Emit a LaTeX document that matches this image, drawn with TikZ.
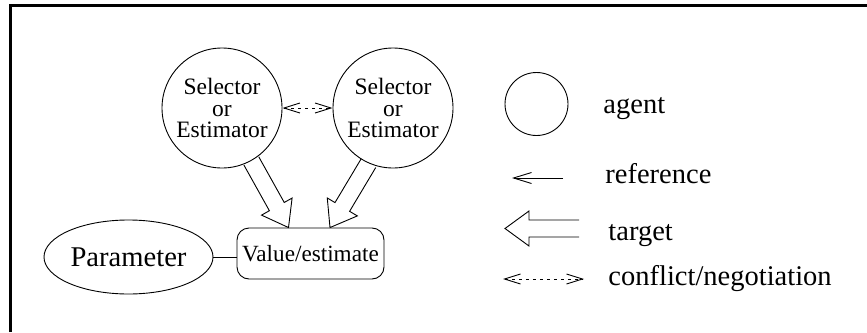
\documentclass[tikz,border=0pt]{standalone}
\usepackage{fontspec}
\setmainfont{Liberation Serif}
\usetikzlibrary{arrows.meta, calc, shapes.geometric}

% hollow (target) arrow from #1 to #2
\newcommand\hollowarrow[2]{%
  \coordinate (hb) at ($(#2)!24pt!(#1)$);
  \draw ($(#1)!8.5pt!90:(#2)$) -- ($(hb)!8.5pt!90:(#2)$) -- ($(hb)!17.5pt!90:(#2)$)
    -- (#2) -- ($(hb)!17.5pt!-90:(#2)$) -- ($(hb)!8.5pt!-90:(#2)$)
    -- ($(#1)!8.5pt!-90:(#2)$);
}

\begin{document}
\begin{tikzpicture}[x=1pt, y=-1pt, line width=0.9pt,
    agent/.style={draw, circle, minimum size=120pt, inner sep=0pt, align=center,
      font=\fontsize{23.5}{21.5}\selectfont},
    legtext/.style={anchor=base west, inner sep=0pt, font=\fontsize{28.5}{30}\selectfont},
    refarrow/.style={-{Straight Barb[length=18pt, width=11pt]}},
    negarrow/.style={{Straight Barb[length=16pt, width=10pt]}-{Straight Barb[length=16pt, width=10pt]},
      dash pattern=on 3pt off 4pt}]
  \useasboundingbox (0,0) rectangle (867,332);

  % frame
  \draw[line width=3pt] (10,332) -- (10,5.5) -- (867,5.5);

  % agents
  \node[agent] (sel1) at (222,108) {Selector\\or\\Estimator};
  \node[agent] (sel2) at (393,108) {Selector\\or\\Estimator};
  \draw[negarrow] (sel1) -- (sel2);

  % parameter and value
  \node[draw, ellipse, minimum width=169pt, minimum height=74pt, inner sep=0pt,
    font=\fontsize{28.6}{30}\selectfont] (param) at (128.5,257) {Parameter};
  \node[draw, rounded corners=12pt, minimum width=147pt, minimum height=51pt, inner sep=0pt,
    font=\fontsize{23.2}{25}\selectfont] (val) at (310.5,253.5) {Value/estimate};
  \draw (param) -- (param -| val.west);

  % targets
  \coordinate (t1) at ($(val.north)+(-22,0)$);
  \coordinate (t2) at ($(val.north)+(19.5,0)$);
  \hollowarrow{sel1.-61}{t1}
  \hollowarrow{sel2.-114}{t2}

  % legend
  \node[draw, circle, minimum size=63pt, inner sep=0pt] (leg) at (536.5,104) {};
  \node[legtext] (lagent) at (603,113) {agent};

  \coordinate (refA) at (563,178);
  \coordinate (refB) at (512,178);
  \draw[refarrow] (refA) -- (refB);
  \node[legtext] (lref) at (605,183) {reference};

  \coordinate (tgA) at (579,228.5);
  \coordinate (tgB) at (505,228.5);
  \hollowarrow{tgA}{tgB}
  \node[legtext] (ltarget) at (608,240) {target};

  \coordinate (ngA) at (503,279);
  \coordinate (ngB) at (584,279);
  \draw[negarrow] (ngA) -- (ngB);
  \node[legtext] (lneg) at (608,285) {conflict/negotiation};
\end{tikzpicture}
\end{document}
